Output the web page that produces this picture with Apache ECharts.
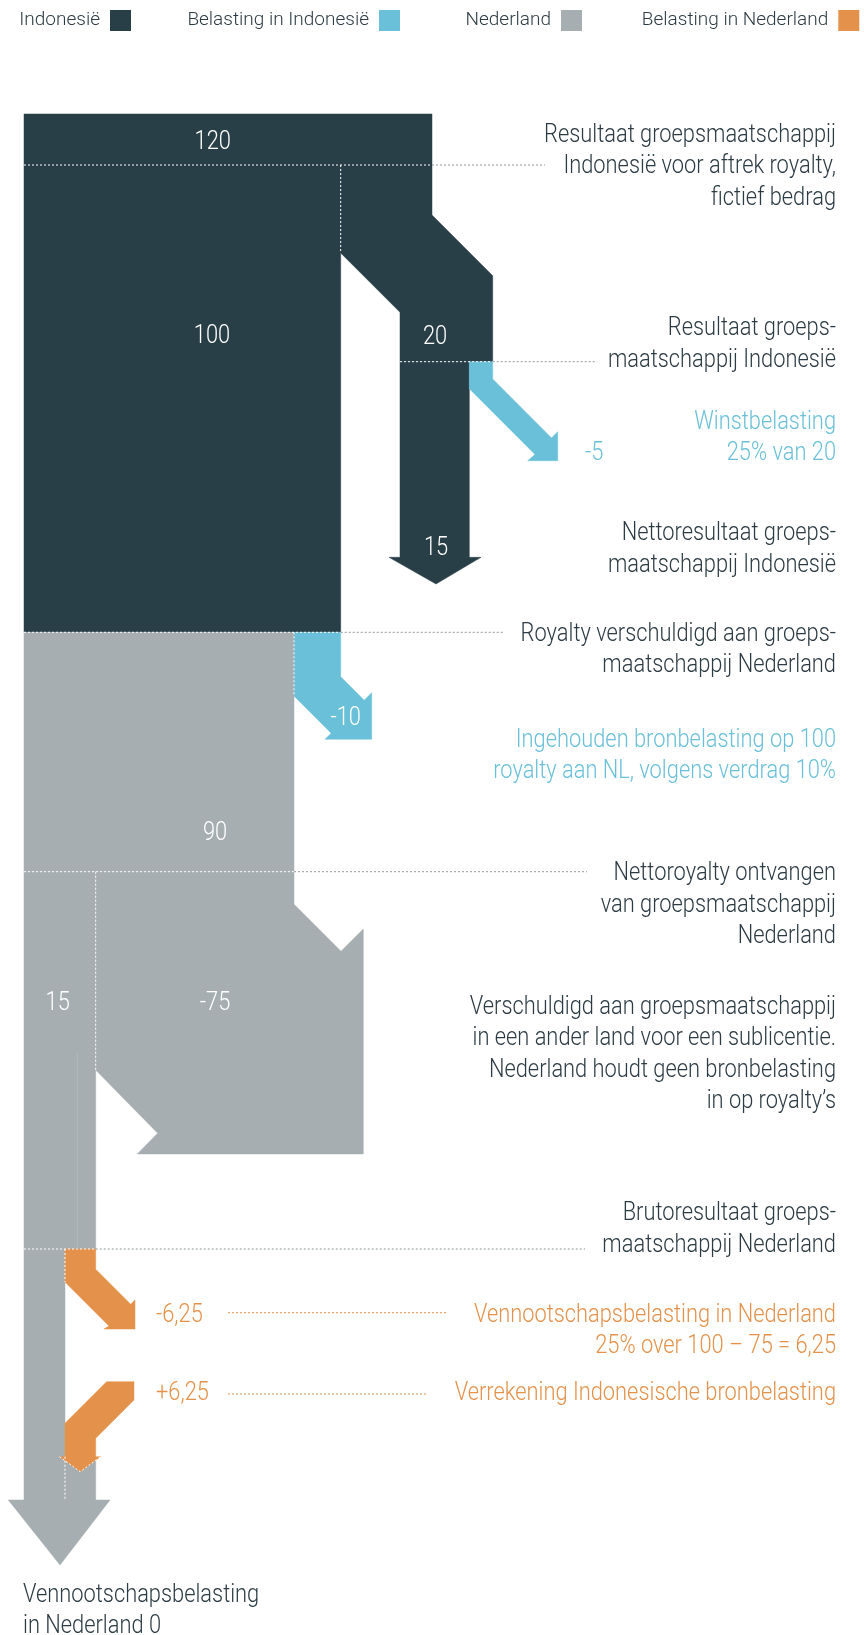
<!DOCTYPE html>
<html>
<head>
<meta charset="utf-8">
<script src="https://cdn.jsdelivr.net/npm/echarts@6/dist/echarts.min.js"></script>
<style>
  html, body { margin: 0; padding: 0; background: #fff; }
  #chart { width: 864px; height: 1635px; }
</style>
</head>
<body>
<div id="chart"></div>
<script>
/* Royaltystroom Indonesië -> Nederland: stroomschema met pijlen per bedrag.
   Vormen in een verborgen cartesisch vlak, alles via api.coord. */

// ---- data ----
const CATEGORIES = ['Indonesië', 'Belasting in Indonesië', 'Nederland', 'Belasting in Nederland'];

// bedragen per stroom (volgorde = volgorde van FLOW_SHAPES hieronder)
const FLOW_VALUES   = [120, 100, 20, 15, -5, -10, 90, 15, -75, -6.25, 6.25];
const FLOW_CATEGORY = [0, 0, 0, 0, 1, 1, 2, 2, 2, 3, 3];
const FLOW_CREDIT   = [false, false, false, false, false, false, false, false, false, false, true];

const NOTE_LINES = [
  ['Resultaat groepsmaatschappij', 'Indonesië voor aftrek royalty,', 'fictief bedrag'],
  ['Resultaat groeps-', 'maatschappij Indonesië'],
  ['Winstbelasting', '25% van 20'],
  ['Nettoresultaat groeps-', 'maatschappij Indonesië'],
  ['Royalty verschuldigd aan groeps-', 'maatschappij Nederland'],
  ['Ingehouden bronbelasting op 100', 'royalty aan NL, volgens verdrag 10%'],
  ['Nettoroyalty ontvangen', 'van groepsmaatschappij', 'Nederland'],
  ['Verschuldigd aan groepsmaatschappij', 'in een ander land voor een sublicentie.',
   'Nederland houdt geen bronbelasting', 'in op royalty\u2019s'],
  ['Brutoresultaat groeps-', 'maatschappij Nederland'],
  ['Vennootschapsbelasting in Nederland', '25% over 100 \u2013 75 = 6,25'],
  ['Verrekening Indonesische bronbelasting'],
  ['Vennootschapsbelasting', 'in Nederland '],   // + saldo van de twee NL-belastingstromen
];
const NOTE_TONE = [0, 0, 1, 0, 0, 1, 0, 0, 0, 3, 3, 0];

// ---- stijl ----
const PALETTE = ['#293f47', '#6bc0d9', '#a6aeb1', '#e4924b'];
const INK = '#2c3b43';
const GUIDE = '#8e979b';
const FONT = "Roboto, 'Liberation Sans', sans-serif";
const FONT_W = 300;
const SQUEEZE = 0.84;   // smalle letter nabootsen
const TEXT_DY = 2;      // Roboto staat iets hoog

// ---- layout (eenheden van het verborgen vlak, 1 eenheid = 1 px) ----
const FLOW_SHAPES = [
  [[24, 114], [432, 114], [432, 165], [24, 165]],
  [[24, 165], [340.7, 165], [340.7, 632.3], [24, 632.3]],
  [[340.7, 165], [432, 165], [432, 215], [492.7, 275.7], [492.7, 361.7], [400, 361.7], [400, 312.3], [340.7, 253]],
  [[400, 361.7], [469.3, 361.7], [469.3, 557.3], [481, 557.3], [436, 584], [389, 557.3], [400, 557.3]],
  [[469.3, 361.7], [492.7, 361.7], [492.7, 379], [551.5, 437.9], [557.7, 431.7], [557.7, 460.7],
   [527.7, 460.7], [535, 454.4], [469.3, 388.7]],
  [[294, 632.3], [340.7, 632.3], [340.7, 676.7], [364.2, 700.2], [371.7, 692.7], [371.7, 739.3],
   [325, 739.3], [331.2, 733.2], [294, 696]],
  [[24, 632.3], [294, 632.3], [294, 871.7], [24, 871.7]],
  [[24, 871.7], [95.7, 871.7], [95.7, 1249], [65, 1249], [65, 1456.7], [95.7, 1456.7], [95.7, 1500],
   [110, 1500], [60, 1565], [8.3, 1500], [24, 1500]],
  [[95.7, 871.7], [294, 871.7], [294, 904.3], [341, 951.3], [363.3, 929], [363.3, 1154],
   [137.3, 1154], [157.7, 1133.3], [95.7, 1070]],
  [[65, 1249], [95.7, 1249], [95.7, 1269.3], [130.7, 1304.3], [135, 1300], [135, 1329],
   [104, 1329], [109, 1326], [65, 1282]],
  [[106.6, 1381.7], [134, 1381.7], [134, 1400], [95.7, 1438.3], [95.7, 1456.7], [100.5, 1456.7],
   [80.3, 1471.7], [59.5, 1456.7], [65, 1456.7], [65, 1423.3]],
];
// [x, y, align, binnen de vorm]
const FLOW_LABEL_AT = [
  [212.7, 140.7, 'center', true], [212, 334, 'center', true], [435, 335.7, 'center', true],
  [436, 546.7, 'center', true], [585, 451.7, 'left', false], [345.7, 716.7, 'center', true],
  [215, 831.7, 'center', true], [57.7, 1001, 'center', true], [215, 1001, 'center', true],
  [156, 1313.3, 'left', false], [156, 1391.7, 'left', false],
];
const NOTE_AT = [
  [836, 133.3], [836, 326.7], [836, 420], [836, 531.7], [836, 632.3], [836, 738.3],
  [836, 871.7], [836, 1005], [836, 1211.7], [836, 1313.3], [836, 1391.7], [23, 1593, 'left'],
];
const LINE_H = 31.5;
// rechterrand van elk legendablokje
const LEGEND_RIGHT = [131, 400, 582, 859.3];

// stippellijnen: [punten, kleur, gestippeld]
const GUIDES = [
  [[[24, 165], [432, 165]], '#fff'], [[[340.7, 165], [340.7, 253]], '#fff'],
  [[[400, 361.7], [492.7, 361.7]], '#fff'], [[[24, 632.3], [340.7, 632.3]], '#fff'],
  [[[294, 632.3], [294, 696]], '#fff'], [[[24, 871.7], [294, 871.7]], '#fff'],
  [[[95.7, 871.7], [95.7, 1070]], '#fff'], [[[24, 1249], [95.7, 1249]], '#fff'],
  [[[65, 1249], [65, 1282]], '#fff'], [[[65, 1456.7], [65, 1500]], '#fff'],
  [[[59.5, 1456.7], [80.3, 1471.7], [100.5, 1456.7]], '#fff'],
  [[[77.3, 1053], [77.3, 1249]], '#b2b9bc', 'solid'],
  [[[432, 165], [545, 165]], GUIDE], [[[492.7, 361.7], [597, 361.7]], GUIDE],
  [[[340.7, 632.3], [503, 632.3]], GUIDE], [[[294, 871.7], [587, 871.7]], GUIDE],
  [[[95.7, 1249], [585, 1249]], GUIDE],
  [[[228, 1312.7], [447, 1312.7]], PALETTE[3]], [[[228, 1394], [427, 1394]], PALETTE[3]],
];

const fmt = v => String(v).replace('.', ',');
const flowLabel = i => (FLOW_CREDIT[i] ? '+' : '') + fmt(FLOW_VALUES[i]);

function squeezedText(at, style) {
  return {
    type: 'text', x: at[0], y: at[1] + TEXT_DY, scaleX: SQUEEZE, z2: 10,
    style: Object.assign({ fontFamily: FONT, fontWeight: FONT_W, fontSize: 26 }, style),
  };
}

function renderFlow(params, api) {
  const i = api.value(0);
  const color = PALETTE[FLOW_CATEGORY[i]];
  const [lx, ly, align, inside] = FLOW_LABEL_AT[i];
  return {
    type: 'group',
    children: [
      { type: 'polygon', shape: { points: FLOW_SHAPES[i].map(p => api.coord(p)) },
        style: { fill: color, stroke: color, lineWidth: 0.5 } },
      squeezedText(api.coord([lx, ly]), {
        text: flowLabel(i), fill: inside ? '#fff' : color, align, verticalAlign: 'middle',
      }),
    ],
  };
}

function renderNote(params, api) {
  const i = api.value(0);
  const [nx, ny, align = 'right'] = NOTE_AT[i];
  const lines = NOTE_LINES[i].slice();
  if (i === NOTE_LINES.length - 1) lines[1] += fmt(FLOW_VALUES[9] + FLOW_VALUES[10]);
  return squeezedText(api.coord([nx, ny - LINE_H / 2]), {
    text: lines.join('\n'), lineHeight: LINE_H,
    fill: NOTE_TONE[i] === 0 ? INK : PALETTE[NOTE_TONE[i]],
    align, verticalAlign: 'top',
  });
}

function renderGuide(params, api) {
  const [pts, color, kind] = GUIDES[api.value(0)];
  return {
    type: 'polyline',
    shape: { points: pts.map(p => api.coord(p)) },
    style: { stroke: color, lineWidth: 1, fill: null, lineDash: kind === 'solid' ? null : [2, 2] },
  };
}

const flowSeries = CATEGORIES.map((name, c) => ({
  type: 'custom',
  name,
  renderItem: renderFlow,
  itemStyle: { color: PALETTE[c] },
  data: FLOW_VALUES.map((v, i) => [i, v]).filter(d => FLOW_CATEGORY[d[0]] === c),
  silent: true,
}));

const legends = CATEGORIES.map((name, c) => ({
  data: [name],
  right: 864 - LEGEND_RIGHT[c], top: 10, padding: 0,
  align: 'right', icon: 'rect', itemWidth: 21, itemHeight: 21,
  selectedMode: false,
  textStyle: { color: INK, fontFamily: FONT, fontWeight: FONT_W, fontSize: 19, padding: [0, 5, 0, 0] },
}));

const chart = echarts.init(document.getElementById('chart'), null, { renderer: 'canvas' });
chart.setOption({
  animation: false,
  color: PALETTE,
  grid: { left: 0, right: 0, top: 0, bottom: 0 },
  xAxis: { type: 'value', min: 0, max: 864, show: false },
  yAxis: { type: 'value', min: 0, max: 1635, inverse: true, show: false },
  legend: legends,
  series: [
    ...flowSeries,
    { type: 'custom', name: 'guides', renderItem: renderGuide, silent: true, z: 5,
      data: GUIDES.map((g, i) => [i, 0]) },
    { type: 'custom', name: 'notes', renderItem: renderNote, silent: true, z: 6,
      data: NOTE_LINES.map((n, i) => [i, 0]) },
  ],
});
</script>
</body>
</html>
